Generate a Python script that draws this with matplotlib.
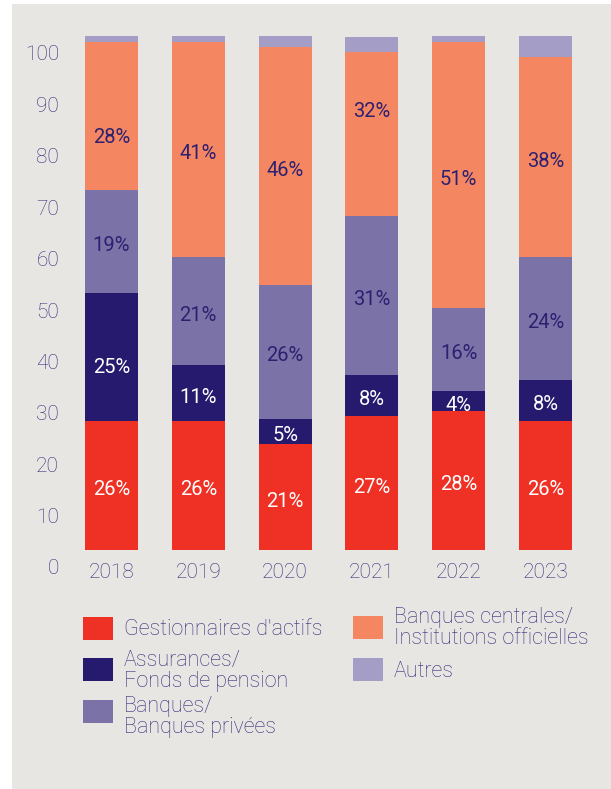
import matplotlib
matplotlib.use("Agg")
import matplotlib.pyplot as plt
from matplotlib.patches import Rectangle
from matplotlib.transforms import ScaledTranslation
import numpy as np

# ---------------- data ----------------
years = ["2018", "2019", "2020", "2021", "2022", "2023"]
gestionnaires = [25.1, 25.1, 20.6, 26.1, 27.0, 25.1]
assurances = [24.9, 10.9, 4.9, 8.0, 3.9, 8.0]
banques = [20.0, 21.0, 26.1, 30.9, 16.1, 23.9]
banques_centrales = [28.8, 41.8, 46.2, 31.9, 51.8, 38.9]
autres = [1.2, 1.2, 2.2, 2.9, 1.2, 4.1]

labels_gestionnaires = ["26%", "26%", "21%", "27%", "28%", "26%"]
labels_assurances = ["25%", "11%", "5%", "8%", "4%", "8%"]
labels_banques = ["19%", "21%", "26%", "31%", "16%", "24%"]
labels_banques_centrales = ["28%", "41%", "46%", "32%", "51%", "38%"]

series_names = ["Gestionnaires d'actifs", "Assurances/\nFonds de pension",
                "Banques/\nBanques privées",
                "Banques centrales/\nInstitutions officielles", "Autres"]
yticks = [0, 10, 20, 30, 40, 50, 60, 70, 80, 90, 100]

# ---------------- style ----------------
colors = ["#EE3124", "#261A6E", "#7B72A8", "#F58662", "#A49EC6"]
label_colors = ["white", "white", "#2B2170", "#2B2170", None]
text_color = "#362C7C"
bg = "#E8E6E2"
FONT = ["Roboto", "DejaVu Sans"]
FS_LAB = 14.5
FS_TICK = 15
FS_LEG = 15.5

W, H = 611, 789
fig = plt.figure(figsize=(W / 100, H / 100), dpi=100)
fig.patch.set_facecolor("white")
fig.add_artist(Rectangle((12 / W, 0), 1 - 12 / W, 1 - 4 / H,
                         transform=fig.transFigure, facecolor=bg,
                         edgecolor="none", zorder=-10))

ax_l, ax_r = 68.1, 588.9
ax_b, ax_t = 550, 36
ax = fig.add_axes([ax_l / W, 1 - ax_b / H, (ax_r - ax_l) / W, (ax_b - ax_t) / H])
ax.set_facecolor("none")

x = np.arange(len(years))
series = [gestionnaires, assurances, banques, banques_centrales, autres]
series_labels = [labels_gestionnaires, labels_assurances, labels_banques,
                 labels_banques_centrales, None]
# small manual nudges of some labels (data units)
nudges = {(3, 0): -3.3, (3, 3): 5.1, (1, 0): -1.2}

bottom = np.zeros(len(years))
for si, (vals, col) in enumerate(zip(series, colors)):
    vals = np.array(vals)
    ax.bar(x, vals, bottom=bottom, width=0.61, color=col, edgecolor="none")
    labs = series_labels[si]
    if labs is not None:
        for i, lab in enumerate(labs):
            yc = bottom[i] + vals[i] / 2 - 0.8 + nudges.get((si, i), 0)
            ax.text(x[i], yc, lab, ha="center", va="center", color=label_colors[si],
                    fontsize=FS_LAB, family=FONT)
    bottom += vals

ax.set_xlim(-0.5, len(years) - 0.5)
ax.set_ylim(0, 100)
ax.set_xticks(x)
ax.set_xticklabels(years)
ax.set_yticks(yticks)
ax.set_yticklabels([str(t) for t in yticks])
for s in ax.spines.values():
    s.set_visible(False)
ax.tick_params(axis="both", length=0, colors=text_color, labelsize=FS_TICK)
ax.tick_params(axis="y", pad=6.5)
ax.tick_params(axis="x", pad=9)
for lab in ax.get_xticklabels() + ax.get_yticklabels():
    lab.set_family(FONT)
    lab.set_fontweight("light")
offset = ScaledTranslation(0, -17 / 100, fig.dpi_scale_trans)
for lab in ax.get_yticklabels():
    lab.set_transform(lab.get_transform() + offset)

# ---------------- legend ----------------
legend_items = [
    (83, 617, 124, 635, 0),
    (83, 658, 124, 686.7, 1),
    (83, 700, 124, 732.7, 2),
    (353, 616, 394, 644.3, 3),
    (353, 658, 394, 676.7, 4),
]
for sx, sy, tx, tb, k in legend_items:
    fig.add_artist(Rectangle((sx / W, 1 - (sy + 23) / H), 30 / W, 23 / H,
                             transform=fig.transFigure, facecolor=colors[k],
                             edgecolor="none"))
    fig.text(tx / W, 1 - tb / H, series_names[k], ha="left", va="baseline",
             color=text_color, fontsize=FS_LEG, family=FONT, fontweight="light",
             linespacing=1.0)

fig.savefig("out.png", dpi=100, facecolor=fig.get_facecolor())
